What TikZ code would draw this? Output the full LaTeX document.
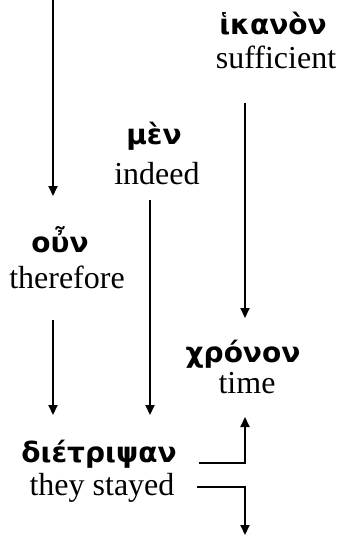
\documentclass[tikz,border=0pt]{standalone}
\usepackage{fontspec}
\setmainfont{Liberation Serif}
\newfontfamily\greekfont{DejaVu Sans}
\usepackage{tikz}
\usetikzlibrary{arrows.meta, calc}

\begin{document}
\begin{tikzpicture}[x=1pt, y=-1pt, >={Triangle[length=10pt, width=9pt]}, line width=2pt,
    gk/.style={anchor=base, inner sep=0pt, font=\greekfont\bfseries\fontsize{28}{32}\selectfont},
    gl/.style={anchor=base, inner sep=0pt, font=\fontsize{32}{36}\selectfont}]
    \useasboundingbox (0,0) rectangle (343,535);
    % arrow columns
    \coordinate (colA) at (53,0);
    \coordinate (colB) at (150,0);
    \coordinate (colC) at (245,0);
    \coordinate (bot) at (245,535);
    \node[gk] (ikanon) at (273,35) {ἱκανὸν};
    \node[gl] (suff) at (276,68) {sufficient};
    \node[gk] (men) at (154,144) {μὲν};
    \node[gl] (indeed) at (157,184) {indeed};
    \node[gk] (oun) at (60,252) {οὖν};
    \node[gl] (ther) at (67,288) {therefore};
    \node[gk] (chronon) at (243,362) {χρόνον};
    \node[gl] (time) at (247,393) {time};
    \node[gk] (dia) at (99,462) {διέτριψαν};
    \node[gl] (stay) at (102,495) {they stayed};
    \draw[->] (colA) -- ([yshift=56pt]colA |- oun.base);
    \draw[->] ([yshift=-32pt]colA |- ther.base) -- ([yshift=47pt]colA |- dia.base);
    \draw[->] ([yshift=-16pt]colB |- indeed.base) -- ([yshift=47pt]colB |- dia.base);
    \draw[->] ([yshift=-35pt]colC |- suff.base) -- ([yshift=44pt]colC |- chronon.base);
    \draw[->] ([xshift=21pt, yshift=-1pt]dia.base east) -| ([yshift=-24pt]colC |- time.base);
    \draw[->] ([xshift=22pt, yshift=8pt]stay.base east) -| (bot);
\end{tikzpicture}
\end{document}
